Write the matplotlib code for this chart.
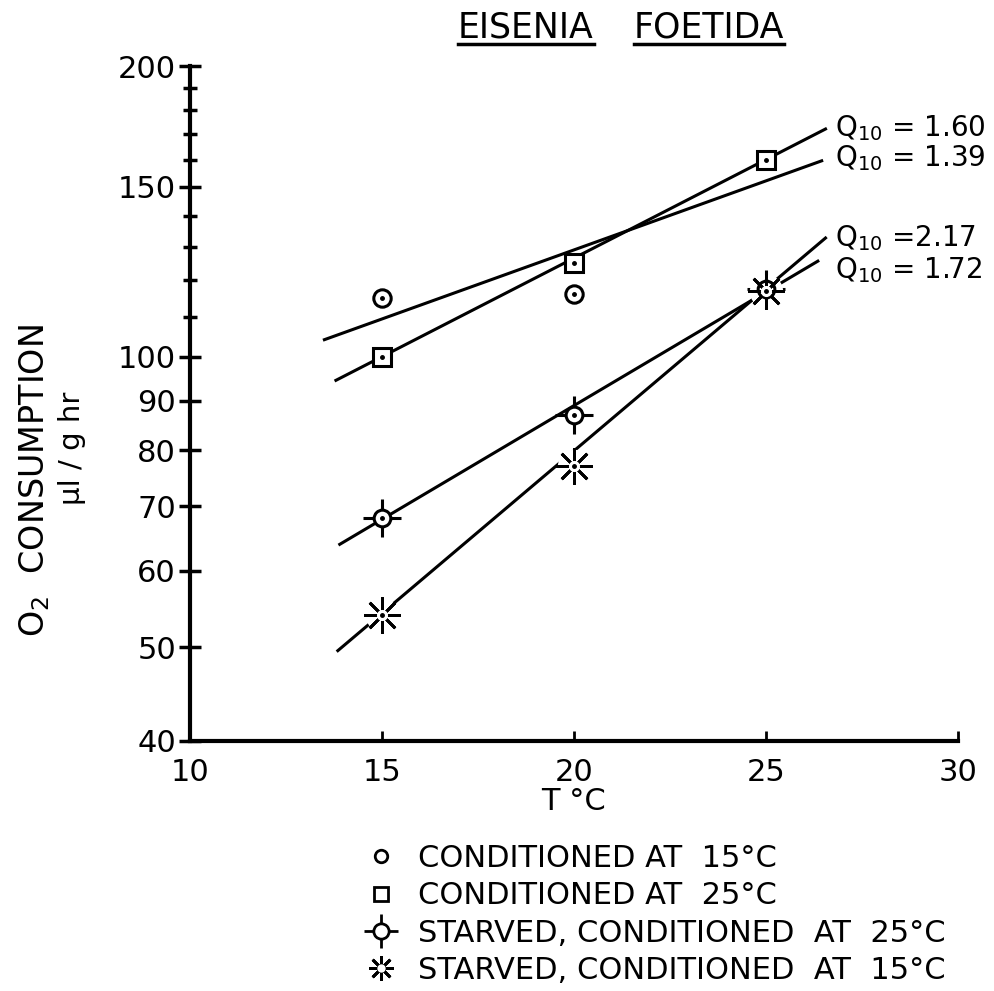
import numpy as np
import matplotlib
matplotlib.use("Agg")
import matplotlib.pyplot as plt
from matplotlib.lines import Line2D
from matplotlib.legend_handler import HandlerTuple

plt.rcParams['font.family'] = ['DejaVu Sans']

# measured points (O2 consumption, ul/g hr)
temps = [15, 20, 25]
cond15 = [115, 116, 160]        # circle at 25 sits under the square
cond25 = [100, 125, 160]
starved25 = [68, 87, 117.5]
starved15 = [54, 77, 117]

# fitted lines: Q10, value at 20 C, x range
fit_q10 = [1.39, 1.60, 1.72, 2.17]
fit_at20 = [129.0, 126.5, 89.0, 79.9]
fit_x0 = [13.5, 13.8, 13.9, 13.85]
fit_x1 = [26.45, 26.55, 26.35, 26.55]
fit_labels = ["Q$_{10}$ = 1.60", "Q$_{10}$ = 1.39", "Q$_{10}$ =2.17", "Q$_{10}$ = 1.72"]

yticks_major = [40, 50, 60, 70, 80, 90, 100, 150, 200]
yticks_minor = [110, 120, 130, 140, 160, 170, 180, 190]
xticks = [10, 15, 20, 25, 30]

legend_labels = ["CONDITIONED AT  15°C", "CONDITIONED AT  25°C",
                 "STARVED, CONDITIONED  AT  25°C", "STARVED, CONDITIONED  AT  15°C"]

W, H = 995, 991
fig = plt.figure(figsize=(W / 100, H / 100), dpi=100)
ax = fig.add_axes([190 / W, 1 - 741 / H, 768 / W, 675 / H])
ax.set_yscale('log')
ax.set_xlim(10, 30)
ax.set_ylim(40, 200)

for s in ['top', 'right']:
    ax.spines[s].set_visible(False)
for s in ['left', 'bottom']:
    ax.spines[s].set_linewidth(3.0)

ax.set_yticks(yticks_major)
ax.set_yticklabels([str(v) for v in yticks_major])
ax.set_yticks(yticks_minor, minor=True)
ax.set_yticklabels([], minor=True)
ax.set_xticks(xticks)
ax.set_xticklabels([str(v) for v in xticks])
ax.tick_params(axis='y', which='major', direction='inout', length=16, width=2.5,
               labelsize=22, pad=2)
ax.tick_params(axis='y', which='minor', direction='inout', length=10, width=2.5)
ax.tick_params(axis='x', which='major', direction='in', length=7, width=2,
               labelsize=22, pad=12)
ax.set_xlabel("T °C", fontsize=22, labelpad=0)

# fitted lines
for q, v20, a, b in zip(fit_q10, fit_at20, fit_x0, fit_x1):
    xx = np.linspace(a, b, 50)
    ax.plot(xx, v20 * q ** ((xx - 20) / 10), color='black', lw=2.2, zorder=2)

lw_m = 2.2
# conditioned at 15: open circle with dot
ax.plot(temps, cond15, ls='none', marker='o', ms=12.5, mfc='white', mec='black',
        mew=lw_m, zorder=3)
ax.plot(temps, cond15, ls='none', marker='o', ms=2.5, color='black', zorder=4)
# conditioned at 25: open square with dot
ax.plot(temps, cond25, ls='none', marker='s', ms=13, mfc='white', mec='black',
        mew=lw_m, zorder=5)
ax.plot(temps, cond25, ls='none', marker='o', ms=2.5, color='black', zorder=6)
# starved, conditioned at 25: circle with spokes
ax.plot(temps, starved25, ls='none', marker='+', ms=27, mew=lw_m, color='black', zorder=3)
ax.plot(temps, starved25, ls='none', marker='o', ms=12, mfc='white', mec='black',
        mew=lw_m, zorder=4)
ax.plot(temps, starved25, ls='none', marker='o', ms=2.5, color='black', zorder=5)
# starved, conditioned at 15: starburst
ax.plot(temps, starved15, ls='none', marker='o', ms=24, mfc='white', mec='none', zorder=3)
ax.plot(temps, starved15, ls='none', marker=(8, 2, 0), ms=26, mew=2.0, color='black',
        zorder=4)
ax.plot(temps, starved15, ls='none', marker='o', ms=8, mfc='white', mec='none', zorder=5)
ax.plot(temps, starved15, ls='none', marker='o', ms=2.5, color='black', zorder=6)

# Q10 labels
for lab, yp in zip(fit_labels, [128, 158, 238, 270]):
    fig.text(835 / W, 1 - yp / H, lab, fontsize=20, va='center', ha='left')

# y label (two lines)
fig.text(35 / W, 1 - 481 / H, "O$_2$  CONSUMPTION", rotation=90, fontsize=24,
         ha='center', va='center')
fig.text(72 / W, 1 - 448 / H, "µl / g hr", rotation=90, fontsize=21,
         ha='center', va='center')

# title with underlined words
t1 = fig.text(458 / W, 1 - 28 / H, "EISENIA", fontsize=25, ha='left', va='center')
t2 = fig.text(634 / W, 1 - 28 / H, "FOETIDA", fontsize=25, ha='left', va='center')
r = fig.canvas.get_renderer()
for t in (t1, t2):
    bb = t.get_window_extent(r)
    fig.add_artist(Line2D([bb.x0 / W, bb.x1 / W], [1 - 44 / H, 1 - 44 / H],
                          transform=fig.transFigure, color='black', lw=2.5))

# legend
h1 = Line2D([], [], ls='none', marker='o', ms=9, mfc='white', mec='black', mew=2)
h2 = Line2D([], [], ls='none', marker='s', ms=10, mfc='white', mec='black', mew=2)
h3 = (Line2D([], [], ls='none', marker='+', ms=24, mew=2, color='black'),
      Line2D([], [], ls='none', marker='o', ms=11, mfc='white', mec='black', mew=2))
h4 = (Line2D([], [], ls='none', marker=(8, 2, 0), ms=18, mew=2, color='black'),
      Line2D([], [], ls='none', marker='o', ms=6, mfc='white', mec='none'))
fig.legend([h1, h2, h3, h4], legend_labels, loc='upper left',
           bbox_to_anchor=(366 / W, 1 - 844 / H), frameon=False, fontsize=22,
           handler_map={tuple: HandlerTuple(ndivide=1)},
           handlelength=1.0, handletextpad=0.7, labelspacing=0.27,
           borderpad=0, borderaxespad=0)

fig.savefig("out.png", dpi=100)
